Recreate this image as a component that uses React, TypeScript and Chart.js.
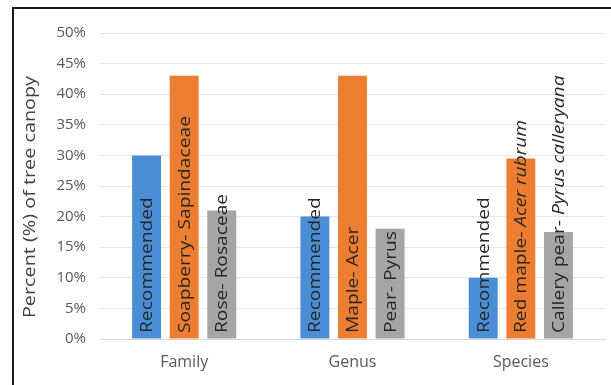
import React, { useEffect, useRef } from "react";
import { Chart, registerables } from "chart.js";

Chart.register(...registerables);

// Taxonomic level of the comparison
const categories = ["Family", "Genus", "Species"];

// Percent of tree canopy
const recommended = [30, 20, 10];
const mostCommon = [43, 43, 29.5];
const secondCommon = [21, 18, 17.5];

// In-bar labels: [upright part, italic part]
const recommendedLabels: [string, string][] = [
  ["Recommended", ""],
  ["Recommended", ""],
  ["Recommended", ""],
];
const mostCommonLabels: [string, string][] = [
  ["Soapberry- Sapindaceae", ""],
  ["Maple- Acer", ""],
  ["Red maple- ", "Acer rubrum"],
];
const secondCommonLabels: [string, string][] = [
  ["Rose- Rosaceae", ""],
  ["Pear- Pyrus", ""],
  ["Callery pear- ", "Pyrus calleryana"],
];

const yTicks = [0, 5, 10, 15, 20, 25, 30, 35, 40, 45, 50];
const yTitle = "Percent (%) of tree canopy";

const FONT = "'Open Sans', 'Liberation Sans', sans-serif";
// vertical text is drawn slightly elongated along its run
const RUN_STRETCH = 1.2;

const barLabelPlugin = {
  id: "barLabels",
  afterDatasetsDraw(chart: any) {
    const ctx = chart.ctx as CanvasRenderingContext2D;
    const baseY = chart.scales.y.getPixelForValue(0);
    const sets = [recommendedLabels, mostCommonLabels, secondCommonLabels];
    sets.forEach((labels, di) => {
      const meta = chart.getDatasetMeta(di);
      meta.data.forEach((bar: any, i: number) => {
        const [plain, ital] = labels[i];
        ctx.save();
        ctx.translate(bar.x + 1, baseY - 6);
        ctx.rotate(-Math.PI / 2);
        ctx.scale(RUN_STRETCH, 1);
        ctx.fillStyle = "#262626";
        ctx.textBaseline = "middle";
        ctx.textAlign = "left";
        ctx.font = `16px ${FONT}`;
        ctx.fillText(plain, 0, 0);
        const w = ctx.measureText(plain).width;
        if (ital) {
          ctx.font = `italic 16px ${FONT}`;
          ctx.fillText(ital, w, 0);
        }
        ctx.restore();
      });
    });

    // value-axis title
    const area = chart.chartArea;
    ctx.save();
    ctx.translate(30, (area.top + area.bottom) / 2 + 11);
    ctx.rotate(-Math.PI / 2);
    ctx.scale(RUN_STRETCH, 1);
    ctx.fillStyle = "#404040";
    ctx.textAlign = "center";
    ctx.textBaseline = "middle";
    ctx.font = `16.5px ${FONT}`;
    ctx.fillText(yTitle, 0, 0);
    ctx.restore();
  },
};

export default function App() {
  const canvasRef = useRef<HTMLCanvasElement | null>(null);

  useEffect(() => {
    if (!canvasRef.current) return;
    const chart = new Chart(canvasRef.current, {
      type: "bar",
      data: {
        labels: categories,
        datasets: [
          { label: "Recommended", data: recommended, backgroundColor: "#4a8fd6" },
          { label: "Most common", data: mostCommon, backgroundColor: "#ed7d31" },
          { label: "Second most common", data: secondCommon, backgroundColor: "#a5a5a5" },
        ],
      },
      options: {
        animation: false,
        responsive: false,
        maintainAspectRatio: false,
        layout: { padding: { left: 0, right: 6, top: 33, bottom: 0 } },
        datasets: {
          bar: { categoryPercentage: 0.67, barPercentage: 0.77 },
        },
        plugins: {
          legend: { display: false },
          tooltip: { enabled: false },
        },
        scales: {
          x: {
            grid: { display: false, drawTicks: false },
            border: { display: true, color: "#d9d9d9" },
            ticks: {
              color: "#595959",
              font: { family: FONT, size: 16 },
              padding: 14,
            },
            afterFit(scale: any) {
              scale.height = 46;
            },
          },
          y: {
            min: 0,
            max: 50,
            afterBuildTicks(scale: any) {
              scale.ticks = yTicks.map((v) => ({ value: v }));
            },
            grid: { color: "#e6e6e6", drawTicks: false },
            border: { display: false },
            ticks: {
              color: "#595959",
              font: { family: FONT, size: 15 },
              padding: 14,
              callback: (v: any) => `${v}%`,
            },
            afterFit(scale: any) {
              scale.width = 100;
            },
          },
        },
      },
      plugins: [barLabelPlugin],
    });
    return () => chart.destroy();
  }, []);

  return (
    <div
      style={{
        position: "fixed",
        left: 0,
        top: 0,
        width: 611,
        height: 385,
        background: "#fff",
        overflow: "hidden",
      }}
    >
      <canvas
        ref={canvasRef}
        width={611}
        height={385}
        style={{ position: "absolute", left: 0, top: 0, width: 611, height: 385 }}
      />
      <div
        style={{
          position: "absolute",
          left: 12,
          top: 7,
          width: 640,
          height: 420,
          border: "2px solid #1a1a1a",
          pointerEvents: "none",
        }}
      />
    </div>
  );
}
